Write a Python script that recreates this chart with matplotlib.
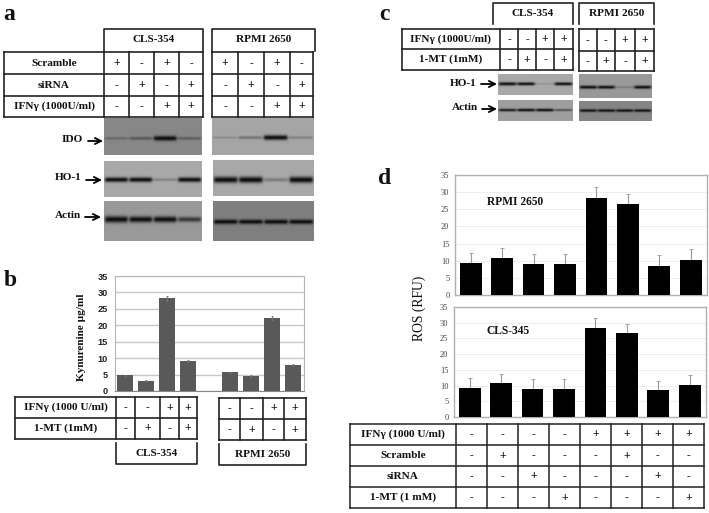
import numpy as np
import matplotlib
matplotlib.use('Agg')
import matplotlib.pyplot as plt

W, H = 709, 513
SERIF = 'Liberation Serif'
SANS = 'Liberation Sans'
LINE = '#222222'

# Panel a
a_rows = ['Scramble', 'siRNA', 'IFNγ (1000U/ml)']
a_signs = [['+', '-', '+', '-'], ['-', '+', '-', '+'], ['-', '-', '+', '+']]
ido_cls = [0.22, 0.35, 1.0, 0.3]
ido_rpmi = [0.15, 0.3, 1.0, 0.22]
ho1_cls_a = [0.95, 0.95, 0.22, 0.95]
ho1_rpmi_a = [1.0, 1.0, 0.25, 1.0]
actin_cls_a = [0.95, 0.85, 0.85, 0.6]
actin_rpmi_a = [0.95, 0.9, 0.9, 0.9]

# Panel b
b_values = [4.8, 3.1, 28.2, 9.2, 5.7, 4.6, 22.1, 7.9]
b_errors = [0.2, 0.2, 0.7, 0.3, 0.2, 0.3, 0.6, 0.2]
b_positions = [0, 1, 2, 3, 5, 6, 7, 8]
b_rows = ['IFNγ (1000 U/ml)', '1-MT (1mM)']
b_signs = [['-', '-', '+', '+'], ['-', '+', '-', '+']]

# Panel c
c_rows = ['IFNγ (1000U/ml)', '1-MT (1mM)']
c_signs = [['-', '-', '+', '+'], ['-', '+', '-', '+']]
ho1_cls_c = [0.95, 0.9, 0.12, 0.9]
ho1_rpmi_c = [0.95, 0.9, 0.2, 0.95]
actin_cls_c = [0.8, 0.9, 0.9, 0.5]
actin_rpmi_c = [0.85, 0.85, 0.85, 0.85]

# Panel d
d_top_values = [9.3, 10.8, 9.0, 9.0, 28.4, 26.6, 8.6, 10.3]
d_bottom_values = [9.3, 10.8, 9.0, 9.0, 28.4, 26.6, 8.6, 10.3]
d_errors = [3.0, 3.0, 3.0, 3.0, 3.0, 3.0, 3.0, 3.0]
d_rows = ['IFNγ (1000 U/ml)', 'Scramble', 'siRNA', '1-MT (1 mM)']
d_signs = [['-', '-', '-', '-', '+', '+', '+', '+'],
           ['-', '+', '-', '-', '-', '+', '-', '-'],
           ['-', '-', '+', '-', '-', '-', '+', '-'],
           ['-', '-', '-', '+', '-', '-', '-', '+']]

fig = plt.figure(figsize=(W / 100, H / 100), dpi=100)
page = fig.add_axes([0, 0, 1, 1])
page.set_xlim(0, W)
page.set_ylim(H, 0)
page.axis('off')


def pixel_axes(x0, y0, x1, y1):
    return fig.add_axes([x0 / W, 1 - y1 / H, (x1 - x0) / W, (y1 - y0) / H])


def label(x, y, s, size=8.1, **kw):
    kw.setdefault('family', SERIF)
    kw.setdefault('weight', 'bold')
    page.text(x, y, s, fontsize=size, ha='center', va='center', color='#111111', **kw)


def table(xs, ys, signs, names=None, lw=1.2):
    for x in xs:
        page.plot([x, x], [ys[0], ys[-1]], color=LINE, lw=lw, solid_capstyle='projecting')
    for y in ys:
        page.plot([xs[0], xs[-1]], [y, y], color=LINE, lw=lw, solid_capstyle='projecting')
    first = 1 if names else 0
    for r, row in enumerate(signs):
        yc = (ys[r] + ys[r + 1]) / 2
        if names:
            label((xs[0] + xs[1]) / 2, yc, names[r])
        for c, s in enumerate(row):
            label((xs[first + c] + xs[first + c + 1]) / 2, yc, s, size=8.5, weight='bold')


def bracket(x0, x1, y0, y1, name, opening='bottom'):
    if opening == 'bottom':
        page.plot([x0, x0, x1, x1], [y1, y0, y0, y1], color=LINE, lw=1.2)
    else:
        page.plot([x0, x0, x1, x1], [y0, y1, y1, y0], color=LINE, lw=1.2)
    label((x0 + x1) / 2, (y0 + y1) / 2, name)


def blot(x0, y0, x1, y1, bands, bg, yfrac=0.5, thick=1.9):
    # bands are the intensity of each lane, 0 = none, 1 = saturated
    w, h = int((x1 - x0) * 3), int((y1 - y0) * 3)
    xx, yy = np.meshgrid(np.linspace(0, x1 - x0, w), np.linspace(0, y1 - y0, h))
    img = np.full((h, w), bg, dtype=float)
    lane = (x1 - x0) / len(bands)
    for i, v in enumerate(bands):
        xc = lane * (i + 0.5)
        half = lane * 0.46
        across = 0.5 * (np.tanh((xx - xc + half) / 1.5) - np.tanh((xx - xc - half) / 1.5))
        t = thick * (0.55 + 0.75 * v)
        down = np.exp(-((yy - (y1 - y0) * yfrac) / t) ** 2)
        img -= (bg - 0.05) * min(1.0, v * 1.15) * across * down
    page.imshow(np.clip(img, 0, 1), cmap='gray', vmin=0, vmax=1, extent=(x0, x1, y1, y0),
                aspect='auto', interpolation='bilinear', zorder=2)


def blot_label(xt, yt, name, x0, x1, y):
    label(xt, yt, name)
    page.annotate('', xy=(x1, y), xytext=(x0, y),
                  arrowprops=dict(arrowstyle='->', color='black', lw=1.3, mutation_scale=11,
                                  shrinkA=0, shrinkB=0))


# ---- panel a ----
label(9, 14, 'a', size=17)
bracket(104, 203, 29, 51, 'CLS-354')
bracket(212, 315, 29, 51, 'RPMI 2650')
table([4, 104, 129, 154, 179, 203], [52, 74, 96, 117], a_signs, a_rows)
table([212, 238, 264, 290, 313], [52, 74, 96, 117], a_signs)
blot(104, 118, 202, 155, ido_cls, 0.53, yfrac=0.55)
blot(212, 118, 314, 155, ido_rpmi, 0.65, yfrac=0.53)
blot(104, 161, 202, 197, ho1_cls_a, 0.66, yfrac=0.52)
blot(213, 160, 314, 196, ho1_rpmi_a, 0.66, yfrac=0.55, thick=2.4)
blot(104, 201, 202, 241, actin_cls_a, 0.6, yfrac=0.46, thick=2.6)
blot(213, 201, 314, 241, actin_rpmi_a, 0.5, yfrac=0.52)
blot_label(72, 140, 'IDO', 88, 103, 141)
blot_label(68, 178, 'HO-1', 86, 102, 180)
blot_label(68, 216, 'Actin', 85, 101, 217)

# ---- panel b ----
label(10, 280, 'b', size=17)
ax_b = pixel_axes(114.5, 276, 304, 391)
ax_b.bar(b_positions, b_values, width=0.76, color='#595959', zorder=3,
         yerr=b_errors, ecolor='#777777', error_kw=dict(lw=0.8, capsize=1, capthick=0.6))
ax_b.set_xlim(-0.5, 8.5)
ax_b.set_ylim(0, 35)
ax_b.set_yticks(range(0, 36, 5))
ax_b.set_xticks([])
ax_b.grid(axis='y', color='#c8c8c8', lw=1)
ax_b.set_axisbelow(True)
ax_b.tick_params(axis='y', length=0, pad=5, labelsize=6.6, labelcolor='#222222')
for t in ax_b.get_yticklabels():
    t.set_family(SANS)
    t.set_weight('bold')
for s in ax_b.spines.values():
    s.set_color('#b5b5b5')
ax_b.spines['bottom'].set_color('#888888')
label(82, 337, 'Kynurenine µg/ml', rotation=90)
table([15, 116, 135, 160, 179, 197], [397, 418, 439], b_signs, b_rows)
table([219, 240, 263, 284, 306], [398, 419, 440], b_signs)
bracket(116, 197, 443, 464, 'CLS-354', opening='top')
bracket(219, 306, 444, 465, 'RPMI 2650', opening='top')

# ---- panel c ----
label(384, 14, 'c', size=17)
bracket(493, 573, 3, 24, 'CLS-354')
bracket(579, 654, 3, 24, 'RPMI 2650')
table([402, 500, 518, 536, 554, 573], [29, 49, 70], c_signs, c_rows)
table([579, 597, 615, 635, 654], [29, 51, 71], c_signs)
blot(498, 74, 573, 95, ho1_cls_c, 0.66, yfrac=0.47, thick=1.3)
blot(579, 74, 652, 98, ho1_rpmi_c, 0.6, yfrac=0.55, thick=1.3)
blot(498, 100, 573, 121, actin_cls_c, 0.62, yfrac=0.48, thick=1.2)
blot(579, 101, 652, 121, actin_rpmi_c, 0.52, yfrac=0.48, thick=1.2)
blot_label(463, 83, 'HO-1', 481, 497, 84)
blot_label(465, 108, 'Actin', 482, 497, 109)

# ---- panel d ----
label(385, 178, 'd', size=17)


def ros_axes(x0, y0, x1, y1, values, name, xt, yt):
    ax = pixel_axes(x0, y0, x1, y1)
    pos = np.arange(len(values))
    ax.bar(pos, values, width=0.69, color='black', zorder=3)
    ax.errorbar(pos, values, yerr=[np.zeros(len(values)), d_errors], fmt='none',
                ecolor='#999999', elinewidth=0.8, capsize=1.2, capthick=0.6, zorder=2)
    ax.set_xlim(-0.5, 7.52)
    ax.set_ylim(0, 35)
    ax.set_yticks(range(0, 36, 5))
    ax.set_xticks([])
    ax.grid(axis='y', color='#eeeeee', lw=0.8)
    ax.set_axisbelow(True)
    ax.tick_params(axis='y', length=0, pad=4, labelsize=6, labelcolor='#444444')
    for t in ax.get_yticklabels():
        t.set_family(SERIF)
    for s in ax.spines.values():
        s.set_color('#b0b0b0')
        s.set_linewidth(1)
    ax.text(xt, yt, name, transform=page.transData, fontsize=8.3, family=SERIF,
            weight='bold', ha='center', va='center', color='#111111')


ros_axes(455, 175, 707, 295, d_top_values, 'RPMI 2650', 515, 202)
ros_axes(454, 307, 706, 417, d_bottom_values, 'CLS-345', 508, 331)
label(419, 308, 'ROS (RFU)', size=9.8, rotation=90, weight='normal')
table([350, 456, 487, 518, 549, 580, 611, 642, 673, 704],
      [424, 445, 466, 487, 508], d_signs, d_rows, lw=1.1)

page.set_xlim(0, W)
page.set_ylim(H, 0)
fig.savefig('out.png', dpi=100)
